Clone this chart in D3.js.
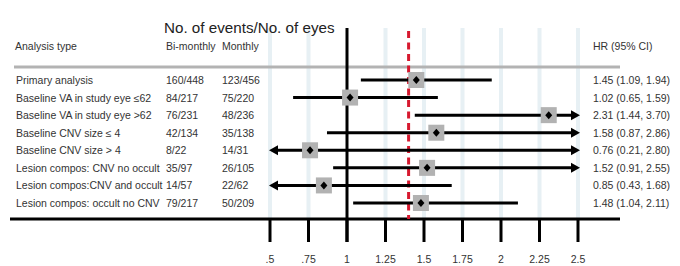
<!DOCTYPE html>
<html>
<head>
<meta charset="utf-8">
<script src="https://cdn.jsdelivr.net/npm/d3@7"></script>
<style>
  body { margin: 0; background: #fff; }
  svg { display: block; font-family: "Liberation Sans", Arial, sans-serif; }
</style>
</head>
<body>
<script>
// Subgroup rows
const labels = [
    "Primary analysis",
    "Baseline VA in study eye \u226462",
    "Baseline VA in study eye >62",
    "Baseline CNV size \u2264 4",
    "Baseline CNV size > 4",
    "Lesion compos: CNV no occult",
    "Lesion compos:CNV and occult",
    "Lesion compos: occult no CNV"
];
const biMonthly = ["160/448", "84/217", "76/231", "42/134", "8/22", "35/97", "14/57", "79/217"];
const monthly = ["123/456", "75/220", "48/236", "35/138", "14/31", "26/105", "22/62", "50/209"];
const hr = [1.45, 1.02, 2.31, 1.58, 0.76, 1.52, 0.85, 1.48];
const lo = [1.09, 0.65, 1.44, 0.87, 0.21, 0.91, 0.43, 1.04];
const hi = [1.94, 1.59, 3.70, 2.86, 2.80, 2.55, 1.68, 2.11];

const tickValues = [0.5, 0.75, 1, 1.25, 1.5, 1.75, 2, 2.25, 2.5];
const tickLabels = [".5", ".75", "1", "1.25", "1.5", "1.75", "2", "2.25", "2.5"];
const refValue = 1.40;

const width = 680, height = 266;
const svg = d3.select("body").append("svg")
    .attr("width", width)
    .attr("height", height);

const x = d3.scaleLinear().domain([0.5, 2.5]).range([270, 578]);
const y = d3.scalePoint().domain(labels).range([80, 203]);

const plotTop = 28, axisY = 219;
const textColor = "#333";
const fs = 10.5;

// light gridlines
svg.append("g").selectAll("line")
    .data(tickValues.filter(d => d !== 1))
    .enter().append("line")
    .attr("x1", d => x(d)).attr("x2", d => x(d))
    .attr("y1", plotTop).attr("y2", axisY)
    .attr("stroke", "#e7f0f4")
    .attr("stroke-width", 4);

// header separator
svg.append("line")
    .attr("x1", 14).attr("x2", 620)
    .attr("y1", 67).attr("y2", 67)
    .attr("stroke", "#b3b3b3")
    .attr("stroke-width", 3);

// headers
svg.append("text").attr("x", 164).attr("y", 33)
    .attr("font-size", 15.2).attr("fill", "#222")
    .text("No. of events/No. of eyes");
svg.append("text").attr("x", 15).attr("y", 50)
    .attr("font-size", fs).attr("fill", textColor).text("Analysis type");
svg.append("text").attr("x", 166).attr("y", 50)
    .attr("font-size", fs).attr("fill", textColor).text("Bi-monthly");
svg.append("text").attr("x", 222).attr("y", 50)
    .attr("font-size", fs).attr("fill", textColor).text("Monthly");
svg.append("text").attr("x", 593).attr("y", 50)
    .attr("font-size", fs).attr("fill", textColor).text("HR (95% CI)");

// table columns
const rows = svg.append("g").selectAll("g")
    .data(labels)
    .enter().append("g")
    .attr("font-size", fs)
    .attr("fill", textColor);

rows.append("text").attr("x", 16).attr("y", d => y(d) + 4).text(d => d);
rows.append("text").attr("x", 166).attr("y", d => y(d) + 4).text((d, i) => biMonthly[i]);
rows.append("text").attr("x", 222).attr("y", d => y(d) + 4).text((d, i) => monthly[i]);
rows.append("text").attr("x", 593).attr("y", d => y(d) + 4)
    .text((d, i) => `${hr[i].toFixed(2)} (${lo[i].toFixed(2)}, ${hi[i].toFixed(2)})`);

// null line at 1
svg.append("line")
    .attr("x1", x(1)).attr("x2", x(1))
    .attr("y1", plotTop).attr("y2", axisY + 23)
    .attr("stroke", "#000").attr("stroke-width", 3);

// axis
const axis = svg.append("g");
axis.append("line")
    .attr("x1", 10).attr("x2", 620)
    .attr("y1", axisY).attr("y2", axisY)
    .attr("stroke", "#000").attr("stroke-width", 3);
axis.selectAll(".tick")
    .data(tickValues)
    .enter().append("line")
    .attr("x1", d => x(d)).attr("x2", d => x(d))
    .attr("y1", axisY).attr("y2", axisY + 23)
    .attr("stroke", "#000").attr("stroke-width", 3);
axis.selectAll(".lbl")
    .data(tickValues)
    .enter().append("text")
    .attr("x", d => x(d)).attr("y", 263)
    .attr("text-anchor", "middle")
    .attr("font-size", fs)
    .attr("fill", textColor)
    .text((d, i) => tickLabels[i]);

// reference line (dashed red)
svg.append("line")
    .attr("x1", x(refValue)).attr("x2", x(refValue))
    .attr("y1", plotTop + 3).attr("y2", axisY)
    .attr("stroke", "#d7192f")
    .attr("stroke-width", 3)
    .attr("stroke-dasharray", "7,4.5");

// CI lines with arrows when clipped
const xmin = x.domain()[0], xmax = x.domain()[1];
const ci = svg.append("g");
hr.forEach((h, i) => {
    const cy = y(labels[i]);
    const left = lo[i] < xmin, right = hi[i] > xmax;
    const x1 = x(Math.max(lo[i], xmin)) + (left ? 5 : 0);
    const x2 = x(Math.min(hi[i], xmax)) - (right ? 5 : 0);
    ci.append("line")
        .attr("x1", x1).attr("x2", x2)
        .attr("y1", cy).attr("y2", cy)
        .attr("stroke", "#000").attr("stroke-width", 3);
    if (right) {
        const tip = x(xmax) + 2;
        ci.append("path")
            .attr("d", `M${tip},${cy} L${tip - 9},${cy - 5} L${tip - 9},${cy + 5} Z`)
            .attr("fill", "#000");
    }
    if (left) {
        const tip = x(xmin) - 1;
        ci.append("path")
            .attr("d", `M${tip},${cy} L${tip + 9},${cy - 5} L${tip + 9},${cy + 5} Z`)
            .attr("fill", "#000");
    }
});

// point estimates
const pts = svg.append("g");
hr.forEach((h, i) => {
    const cx = x(h), cy = y(labels[i]);
    pts.append("rect")
        .attr("x", cx - 8).attr("y", cy - 8)
        .attr("width", 16).attr("height", 16)
        .attr("fill", "#b2b2b2");
    pts.append("path")
        .attr("d", `M${cx},${cy - 4} L${cx + 3.5},${cy} L${cx},${cy + 4} L${cx - 3.5},${cy} Z`)
        .attr("fill", "#000");
});
</script>
</body>
</html>
